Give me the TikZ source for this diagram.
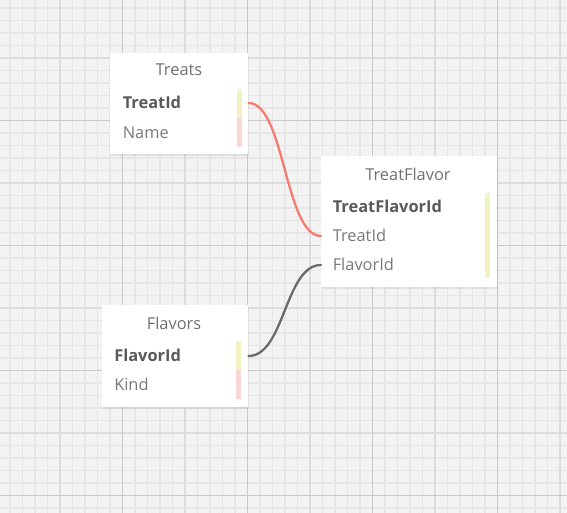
\documentclass[tikz,border=0pt]{standalone}
\usepackage{fontspec}
\setmainfont{Open Sans}
\usetikzlibrary{shadows}

\definecolor{gridbg}{HTML}{F3F3F3}
\definecolor{gridminor}{HTML}{E6E6E6}
\definecolor{gridmid}{HTML}{DCDCDC}
\definecolor{gridmajor}{HTML}{C9C9C9}
\definecolor{keybar}{HTML}{F2F2C2}
\definecolor{fieldbar}{HTML}{FBD6D6}
\definecolor{titlegray}{HTML}{707070}
\definecolor{keygray}{HTML}{5A5A5A}
\definecolor{fieldgray}{HTML}{7A7A7A}
\definecolor{relred}{HTML}{F47B70}
\definecolor{relgray}{HTML}{6A6A6A}

\tikzset{
  card/.style={fill=white, draw=none, inner sep=0pt, anchor=north west,
    drop shadow={shadow xshift=0.6pt, shadow yshift=-1.1pt, opacity=0.16}},
  cardtitle/.style={inner sep=0pt, text height=8.8pt, text depth=0pt, text=titlegray,
    font=\fontsize{12.3}{14}\selectfont},
  keyrow/.style={anchor=west, inner sep=0pt, text height=8.8pt, text depth=0pt, text=keygray,
    font=\fontsize{12.3}{14}\selectfont\bfseries},
  fieldrow/.style={anchor=west, inner sep=0pt, text height=8.8pt, text depth=0pt, text=fieldgray,
    font=\fontsize{12.3}{14}\selectfont},
  relation/.style={line width=1.7pt, line cap=round}
}

\begin{document}
\begin{tikzpicture}[x=0.75pt,y=0.75pt,yscale=-1,xscale=1]
  \useasboundingbox (0,0) rectangle (567,513);
  % background grid
  \fill[gridbg] (0,0) rectangle (567,513);
  \begin{scope}
    \clip (0,0) rectangle (567,513);
    \foreach \gx in {-2.5,10,...,570} \draw[gridminor, line width=0.9pt] (\gx,0) -- (\gx,513);
    \foreach \gy in {-4.5,8,...,515} \draw[gridminor, line width=0.9pt] (0,\gy) -- (567,\gy);
    \foreach \gx in {60,185,310,435,560} \draw[gridmid, line width=0.9pt] (\gx,0) -- (\gx,513);
    \foreach \gy in {58,183,308,433} \draw[gridmid, line width=0.9pt] (0,\gy) -- (567,\gy);
    \foreach \gx in {122.5,247.5,372.5,497.5} \draw[gridmajor, line width=0.9pt] (\gx,0) -- (\gx,513);
    \foreach \gy in {120.5,245.5,370.5,495.5} \draw[gridmajor, line width=0.9pt] (0,\gy) -- (567,\gy);
  \end{scope}

  % Treats
  \node[card, minimum width=103.5pt, minimum height=75.75pt] (treats) at (110,53) {};
  \node[cardtitle] (treatsTitle) at (179,70) {Treats};
  \node[keyrow] (treatsTreatId) at (122.5,103) {TreatId};
  \node[fieldrow] (treatsName) at (122.5,132.5) {Name};
  \fill[keybar] (237,89) rectangle (242,118);
  \fill[fieldbar] (237,118) rectangle (242,147);

  % TreatFlavor
  \node[card, minimum width=132pt, minimum height=98.25pt] (treatFlavor) at (321,156) {};
  \node[cardtitle] (treatFlavorTitle) at (408,175) {TreatFlavor};
  \node[keyrow] (tfTreatFlavorId) at (332.5,206.5) {TreatFlavorId};
  \node[fieldrow] (tfTreatId) at (332.5,236) {TreatId};
  \node[fieldrow] (tfFlavorId) at (332.5,265) {FlavorId};
  \fill[keybar] (485,193) rectangle (490,278);

  % Flavors
  \node[card, minimum width=109.5pt, minimum height=76.5pt] (flavors) at (102,305) {};
  \node[cardtitle] (flavorsTitle) at (174,324) {Flavors};
  \node[keyrow] (flavorsFlavorId) at (114,356) {FlavorId};
  \node[fieldrow] (flavorsKind) at (114,385) {Kind};
  \fill[keybar] (236,341) rectangle (241,370);
  \fill[fieldbar] (236,370) rectangle (241,399);

  % relations
  \draw[relation, relred] (treats.east |- treatsTreatId) .. controls +(36,0) and +(-36,0) .. (treatFlavor.west |- tfTreatId);
  \draw[relation, relgray] (flavors.east |- flavorsFlavorId) .. controls +(36,0) and +(-36,0) .. (treatFlavor.west |- tfFlavorId);
\end{tikzpicture}
\end{document}
